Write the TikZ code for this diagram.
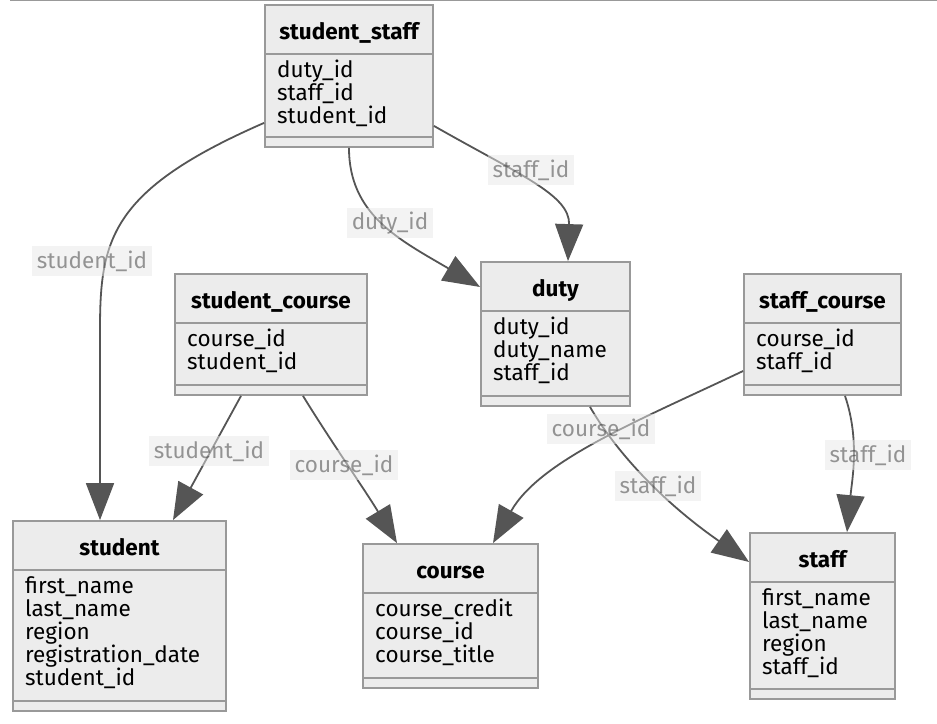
\documentclass[tikz,border=0pt]{standalone}
\usepackage{fontspec}
\setmainfont{Fira Sans}
\usetikzlibrary{arrows.meta}
\definecolor{boxfill}{HTML}{ECECEC}
\definecolor{boxline}{HTML}{999999}
\definecolor{edgecol}{HTML}{555555}
\definecolor{lblfill}{HTML}{E8E8E8}
\definecolor{lbltext}{HTML}{333333}
\begin{document}
\begin{tikzpicture}[x=1pt, y=-1pt, font=\fontsize{22.5}{23}\selectfont,
    entity/.style={draw=boxline, fill=boxfill, line width=1.8pt, inner sep=0pt},
    title/.style={anchor=base, inner sep=0pt, font=\fontsize{22.5}{23}\selectfont\bfseries},
    attr/.style={anchor=base west, inner sep=0pt},
    rule/.style={draw=boxline, line width=1.8pt},
    rel/.style={draw=edgecol, line width=1.8pt, -{Triangle[length=37pt, width=28pt]}},
    lbl/.style={fill=lblfill, text=lbltext, opacity=0.5, inner xsep=5pt, inner ysep=2pt, minimum height=30pt}]
  \useasboundingbox (0,0) rectangle (937,723);
  \draw[boxline, line width=1.5pt] (10,0.7) -- (937,0.7);
  \foreach \n/\l/\t/\r/\b/\ti/\at in {
      studentstaff/265/5/433/147/student\_staff/{duty\_id,staff\_id,student\_id},
      student/13/521/226/711/student/{first\_name,last\_name,region,registration\_date,student\_id},
      duty/481/262/630/406/duty/{duty\_id,duty\_name,staff\_id},
      studentcourse/175/274/367/395/student\_course/{course\_id,student\_id},
      staffcourse/744/274/901/395/staff\_course/{course\_id,staff\_id},
      course/363/544/538/688/course/{course\_credit,course\_id,course\_title},
      staff/750/533/895/699/staff/{first\_name,last\_name,region,staff\_id}}
  {
    \node[entity, minimum width=\r-\l, minimum height=\b-\t] (\n) at ({(\l+\r)/2},{(\t+\b)/2}) {};
    \node[title] (\n-title) at ({(\l+\r)/2},\t+34) {\ti};
    \draw[rule] (\l,\t+49) -- (\r,\t+49);
    \draw[rule] (\l,\b-10) -- (\r,\b-10);
    \foreach \a [count=\i] in \at
      \node[attr] (\n-\i) at (\l+12,\t+49+23.5+23*\i-23) {\a};
  }
  \draw[rel] ([yshift=25pt]studentstaff.south west) .. controls (110,190) and (100,240) .. (100,330) -- ([xshift=-19.5pt]student.north);
  \draw[rel] (studentstaff.south) .. controls (349,215) and (400,240) .. ([yshift=47pt]duty.west);
  \draw[rel] ([yshift=22pt]studentstaff.south east) .. controls (520,175) and (570,195) .. ([xshift=12.5pt]duty.north);
  \draw[rel] ([xshift=-30pt]studentcourse.south) -- ([xshift=53.5pt]student.north);
  \draw[rel] ([xshift=32pt]studentcourse.south) .. controls (330,440) and (365,490) .. ([xshift=-53.5pt]course.north);
  \draw[rel] ([yshift=-36.5pt]staffcourse.west) .. controls (640,420) and (540,460) .. ([xshift=42.5pt]course.north);
  \draw[rel] ([xshift=34.5pt]duty.south) .. controls (615,450) and (660,500) .. ([yshift=54pt]staff.west);
  \draw[rel] ([xshift=22.5pt]staffcourse.south) .. controls (860,440) and (852,480) .. ([xshift=24.5pt]staff.north);
  \foreach \n/\x/\y/\t in {la/92/261/student\_id, lb/390/223/duty\_id, lc/531/170/staff\_id,
                           ld/209/451/student\_id, le/344/465/course\_id, lf/601/429/course\_id,
                           lg/658/486/staff\_id, lh/868/455/staff\_id}
    \node[lbl] (\n) at (\x,\y) {\t};
\end{tikzpicture}
\end{document}
